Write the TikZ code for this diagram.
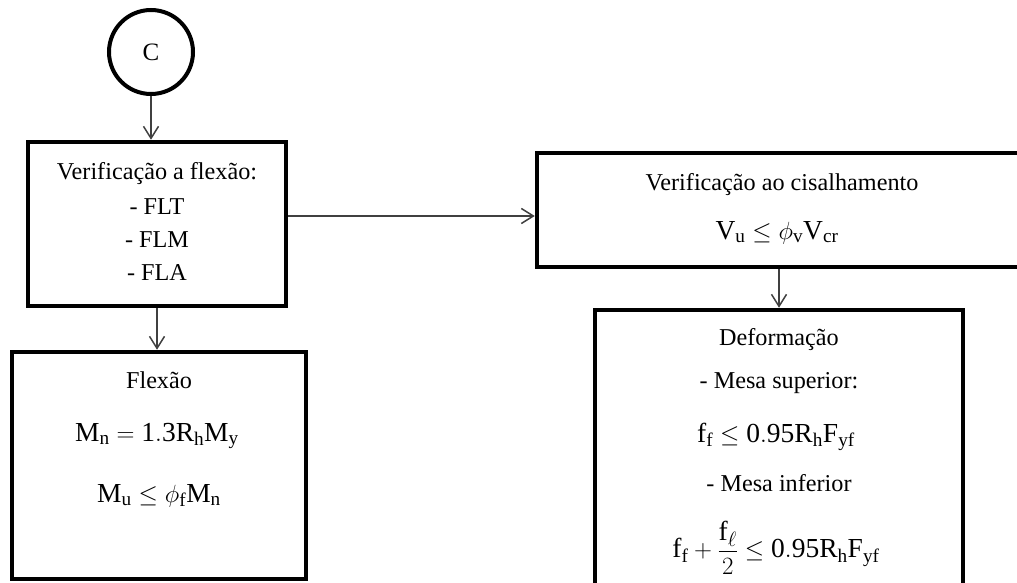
\documentclass[tikz,border=0pt]{standalone}
\usepackage{amsmath}
\usepackage{fontspec}
\setmainfont{Liberation Serif}
\usetikzlibrary{arrows.meta}

\begin{document}
\begin{tikzpicture}[x=1pt,y=-1pt,
  caixa/.style={draw,line width=4.5pt,inner sep=0pt},
  seta/.style={-{Straight Barb[length=12pt,width=15pt]},line width=1.5pt,black!75},
  txt/.style={font=\fontsize{24.2}{28}\selectfont,inner sep=0pt,anchor=base},
  eq/.style={font=\fontsize{27.5}{32}\selectfont,inner sep=0pt,anchor=base}]
\useasboundingbox (0,0) rectangle (1017,583);
\clip (0,0) rectangle (1017,583);
% blocos
\node[circle,draw,line width=4pt,minimum size=84pt,inner sep=0pt,font=\fontsize{25}{28}\selectfont] (c) at (151,52) {C};
\node[caixa,minimum width=258pt,minimum height=164pt] (verflex) at (157,224) {};
\node[caixa,minimum width=294pt,minimum height=227pt] (flexao) at (159,465.5) {};
\node[caixa,minimum width=490pt,minimum height=114pt] (cisalh) at (782,210) {};
\node[caixa,minimum width=368pt,minimum height=310pt] (deform) at (779,465) {};
% textos
\node[txt] (t1) at (157,179) {Verificação a flexão:};
\node[txt] (t2) at (157,214) {- FLT};
\node[txt] (t3) at (157,247) {- FLM};
\node[txt] (t4) at (157,280) {- FLA};
\node[txt] (t5) at (159,388) {Flexão};
\node[eq] (e1) at (157,441) {$\mathrm{M_n = 1.3R_hM_y}$};
\node[eq] (e2) at (159,502) {$\mathrm{M_u} \le \phi_\mathrm{f}\mathrm{M_n}$};
\node[txt] (t6) at (782,190) {Verificação ao cisalhamento};
\node[eq] (e3) at (777,239) {$\mathrm{V_u} \le \phi_\mathrm{v}\mathrm{V_{cr}}$};
\node[txt] (t7) at (779,345) {Deformação};
\node[txt] (t8) at (779,388) {- Mesa superior:};
\node[eq] (e4) at (776,442) {$\mathrm{f_f} \le \mathrm{0.95R_hF_{yf}}$};
\node[txt] (t9) at (779,491) {- Mesa inferior};
\node[eq,anchor=center] (e5) at (776,548) {$\mathrm{f_f} + \dfrac{\mathrm{f}_\ell}{2} \le \mathrm{0.95R_hF_{yf}}$};
% ligacoes
\coordinate (h) at ([yshift=8pt]verflex.east);
\draw[seta] (c.south) -- (c.south |- verflex.north);
\draw[seta] (verflex.south) -- (verflex.south |- flexao.north);
\draw[seta] (h) -- (h -| cisalh.west);
\draw[seta] (deform.north |- cisalh.south) -- (deform.north);
\end{tikzpicture}
\end{document}
